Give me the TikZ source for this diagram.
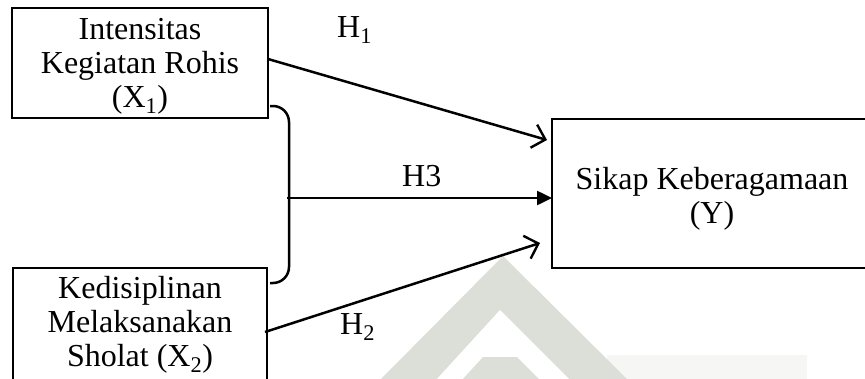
\documentclass[tikz,border=0pt]{standalone}
\usepackage{fontspec}
\setmainfont{Liberation Serif}
\usetikzlibrary{arrows.meta,calc}
\definecolor{wmgray}{RGB}{220,223,216}
\definecolor{wmlight}{RGB}{246,247,245}
\begin{document}
\begin{tikzpicture}[x=1pt,y=-1pt,
  box/.style={draw,line width=2.7pt,inner sep=0pt,outer sep=0pt},
  txt/.style={align=center,font=\fontsize{32}{34}\selectfont,inner sep=0pt},
  lbl/.style={font=\fontsize{32}{34}\selectfont,inner sep=0pt,anchor=base west},
  conn/.style={line width=2.5pt},
  openarrow/.style={conn,-{Straight Barb[length=12pt,width=24pt,line width=2.4pt]}},
  fillarrow/.style={conn,-{Triangle[length=15pt,width=14pt]}},
  wm/.style={fill=wmgray,draw=none}]
\useasboundingbox (0,0) rectangle (865,378);
\clip (0,0) rectangle (865,378);
% watermark
\fill[wmlight] (607,355) rectangle (807,380);
\fill[wm] (503,256) -- (628,380) -- (380,380) -- cycle;
\fill[white] (500,310) -- (570,380) -- (436,380) -- cycle;
\fill[wm] (483,357) -- (517,357) -- (540,380) -- (462,380) -- cycle;
% boxes
\node[box,minimum width=256pt,minimum height=110pt] (x1) at (140,63) {};
\node[txt] (x1t) at (140,66) {Intensitas\\Kegiatan Rohis\\(X\textsubscript{1})};
\node[box,minimum width=254pt,minimum height=140pt] (x2) at (140,338) {};
\node[txt] (x2t) at (140,325) {Kedisiplinan\\Melaksanakan\\Sholat (X\textsubscript{2})};
\node[box,minimum width=320pt,minimum height=149pt] (y) at (712,193.5) {};
\node[txt] (yt) at (712,199) {Sikap Keberagamaan\\(Y)};
% brace
\coordinate (bt) at (270,106);
\coordinate (bb) at (270,283);
\coordinate (bm) at (287,198);
\draw[conn,rounded corners=16pt] (bt) -- (289,106) -- (289,283) -- (bb);
% arrows
\draw[openarrow] ([yshift=4pt]x1.east) -- ([xshift=-5pt,yshift=-21pt]y.north west);
\draw[fillarrow] (bm) -- (bm -| y.west);
\draw[openarrow] ([xshift=-2pt,yshift=6pt]x2.east) -- ([xshift=-12pt,yshift=25pt]y.south west);
% labels
\node[lbl] (h1) at (337,37) {H\textsubscript{1}};
\node[lbl] (h3) at (402,186) {H3};
\node[lbl] (h2) at (340,334) {H\textsubscript{2}};
\end{tikzpicture}
\end{document}
